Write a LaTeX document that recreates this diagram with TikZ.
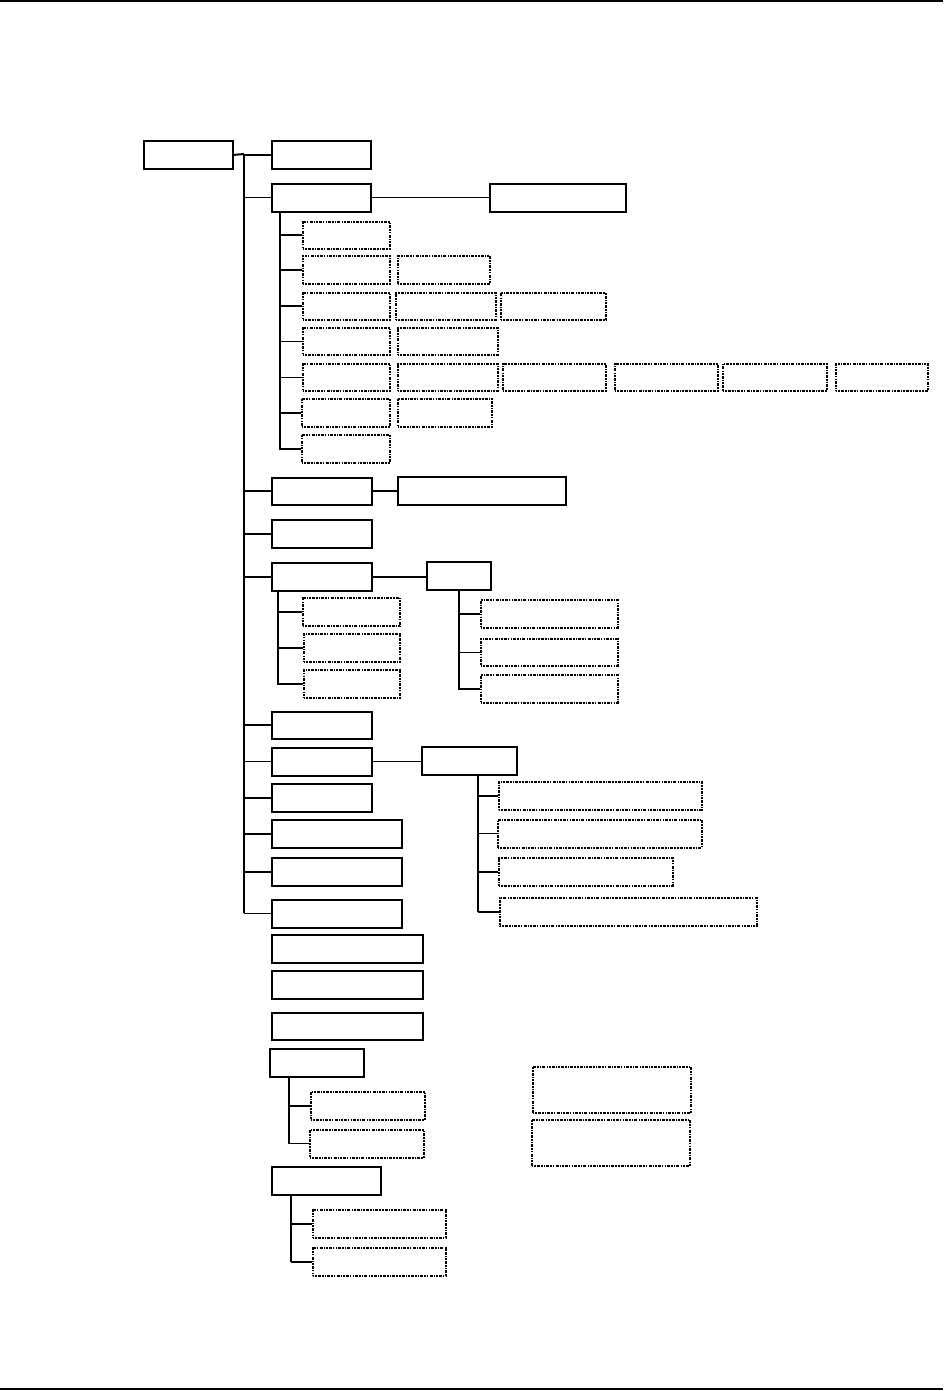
\documentclass[tikz,border=0pt]{standalone}

\tikzset{
  sbox/.style={draw, line width=1.8pt, inner sep=0pt, anchor=north west},
  sboxthin/.style={sbox, line width=1.6pt},
  dbox/.style={draw, line width=1.5pt, inner sep=0pt, anchor=north west,
    dash pattern=on 1.5pt off 1.1pt on 1.5pt off 1.1pt on 3pt off 1.1pt},
  link/.style={line width=2pt},
  thinlink/.style={line width=1.1pt}
}

\begin{document}
\begin{tikzpicture}[x=1pt, y=-1pt]
  \useasboundingbox (0,0) rectangle (943,1391);

  % the page rules
  \draw[line width=2.5pt] (0,1) -- (943,1);
  \draw[line width=2.5pt] (0,1389) -- (943,1389);

  % the root and the main branches
  \node[sbox, minimum width=89pt, minimum height=28pt] (root) at (143,140) {};
  \node[sboxthin, minimum width=99pt, minimum height=28pt] (b1) at (271,140) {};
  \node[sbox, minimum width=99pt, minimum height=28pt] (b2) at (271,183) {};
  \node[sbox, minimum width=136pt, minimum height=28pt] (b2r) at (489,183) {};
  \node[sboxthin, minimum width=100pt, minimum height=27pt] (b3) at (271,477) {};
  \node[sbox, minimum width=168pt, minimum height=28pt] (b3r) at (397,476) {};
  \node[sbox, minimum width=100pt, minimum height=28pt] (b4) at (271,519) {};
  \node[sbox, minimum width=100pt, minimum height=28pt] (b5) at (271,562) {};
  \node[sbox, minimum width=64pt, minimum height=28pt] (b5r) at (426,561) {};
  \node[sbox, minimum width=100pt, minimum height=27pt] (b6) at (271,711) {};
  \node[sboxthin, minimum width=100pt, minimum height=28pt] (b7) at (271,747) {};
  \node[sbox, minimum width=95pt, minimum height=28pt] (b7r) at (421,746) {};
  \node[sbox, minimum width=100pt, minimum height=28pt] (b8) at (271,783) {};
  \node[sbox, minimum width=130pt, minimum height=28pt] (b9) at (271,819) {};
  \node[sbox, minimum width=130pt, minimum height=28pt] (b10) at (271,857) {};
  \node[sbox, minimum width=130pt, minimum height=28pt] (b11) at (271,899) {};

  % the boxes below the trunk
  \node[sbox, minimum width=151pt, minimum height=28pt] (d1) at (271,934) {};
  \node[sbox, minimum width=151pt, minimum height=28pt] (d2) at (271,970) {};
  \node[sboxthin, minimum width=151pt, minimum height=27pt] (d3) at (271,1012) {};
  \node[sbox, minimum width=94pt, minimum height=28pt] (e) at (269,1048) {};
  \node[sboxthin, minimum width=109pt, minimum height=28pt] (f) at (271,1166) {};

  % the dotted boxes under b2
  \node[dbox, minimum width=87pt, minimum height=27pt] (b2c1) at (302,221) {};
  \node[dbox, minimum width=87pt, minimum height=28pt] (b2c2) at (302,255) {};
  \node[dbox, minimum width=92pt, minimum height=28pt] (b2c2a) at (397,255) {};
  \node[dbox, minimum width=87pt, minimum height=27pt] (b2c3) at (302,292) {};
  \node[dbox, minimum width=100pt, minimum height=27pt] (b2c3a) at (395,292) {};
  \node[dbox, minimum width=105pt, minimum height=27pt] (b2c3b) at (500,292) {};
  \node[dbox, minimum width=87pt, minimum height=27pt] (b2c4) at (302,327) {};
  \node[dbox, minimum width=100pt, minimum height=27pt] (b2c4a) at (397,327) {};
  \node[dbox, minimum width=87pt, minimum height=27pt] (b2c5) at (302,363) {};
  \node[dbox, minimum width=100pt, minimum height=27pt] (b2c5a) at (397,363) {};
  \node[dbox, minimum width=103pt, minimum height=27pt] (b2c5b) at (502,363) {};
  \node[dbox, minimum width=103pt, minimum height=27pt] (b2c5c) at (614,363) {};
  \node[dbox, minimum width=104pt, minimum height=27pt] (b2c5d) at (722,363) {};
  \node[dbox, minimum width=92pt, minimum height=27pt] (b2c5e) at (835,363) {};
  \node[dbox, minimum width=88pt, minimum height=28pt] (b2c6) at (301,398) {};
  \node[dbox, minimum width=94pt, minimum height=28pt] (b2c6a) at (397,398) {};
  \node[dbox, minimum width=88pt, minimum height=28pt] (b2c7) at (301,434) {};

  % the dotted boxes under b5 and b5r
  \node[dbox, minimum width=97pt, minimum height=28pt] (b5c1) at (302,597) {};
  \node[dbox, minimum width=96pt, minimum height=28pt] (b5c2) at (303,633) {};
  \node[dbox, minimum width=96pt, minimum height=28pt] (b5c3) at (303,669) {};
  \node[dbox, minimum width=137pt, minimum height=28pt] (b5rc1) at (480,599) {};
  \node[dbox, minimum width=137pt, minimum height=27pt] (b5rc2) at (480,638) {};
  \node[dbox, minimum width=137pt, minimum height=28pt] (b5rc3) at (480,674) {};

  % the dotted boxes under b7r
  \node[dbox, minimum width=203pt, minimum height=28pt] (b7rc1) at (498,781) {};
  \node[dbox, minimum width=204pt, minimum height=28pt] (b7rc2) at (497,819) {};
  \node[dbox, minimum width=174pt, minimum height=28pt] (b7rc3) at (498,857) {};
  \node[dbox, minimum width=257pt, minimum height=28pt] (b7rc4) at (499,897) {};

  % the dotted boxes under e and f, and the two loose ones
  \node[dbox, minimum width=114pt, minimum height=28pt] (ec1) at (310,1091) {};
  \node[dbox, minimum width=114pt, minimum height=28pt] (ec2) at (309,1129) {};
  \node[dbox, minimum width=133pt, minimum height=28pt] (fc1) at (312,1209) {};
  \node[dbox, minimum width=133pt, minimum height=28pt] (fc2) at (312,1247) {};
  \node[dbox, minimum width=158pt, minimum height=46pt] (g1) at (532,1066) {};
  \node[dbox, minimum width=158pt, minimum height=46pt] (g2) at (531,1119) {};

  % the trunk
  \coordinate (trunktop) at (244,154);
  \coordinate (trunkbot) at (244,913);
  \draw[link] (root.east) -- (trunktop);
  \draw[link] (trunktop) -- (trunkbot);
  \draw[link] (trunktop |- b1.west) -- (b1.west);
  \draw[thinlink] (trunktop |- b2.west) -- (b2.west);
  \draw[link] (trunktop |- b3.west) -- (b3.west);
  \draw[link] (trunktop |- b4.west) -- (b4.west);
  \draw[link] (trunktop |- b5.west) -- (b5.west);
  \draw[link] (trunktop |- b6.west) -- (b6.west);
  \draw[thinlink] (trunktop |- b7.west) -- (b7.west);
  \draw[link] (trunktop |- b8.west) -- (b8.west);
  \draw[link] (trunktop |- b9.west) -- (b9.west);
  \draw[link] (trunktop |- b10.west) -- (b10.west);
  \draw[thinlink] (trunktop |- b11.west) -- (b11.west);

  % side links
  \draw[thinlink] (b2.east) -- (b2.east -| b2r.west);
  \draw[link] (b3.east) -- (b3.east -| b3r.west);
  \draw[link] (b5.east) -- (b5.east -| b5r.west);
  \draw[thinlink] (b7.east) -- (b7.east -| b7r.west);

  % the links under b2
  \coordinate (b2v) at (280,211);
  \draw[link] (b2v) |- (b2c7.west);
  \draw[link] (b2v |- b2c1.west) -- (b2c1.west);
  \draw[link] (b2v |- b2c2.west) -- (b2c2.west);
  \draw[link] (b2v |- b2c3.west) -- (b2c3.west);
  \draw[thinlink] (b2v |- b2c4.west) -- (b2c4.west);
  \draw[thinlink] (b2v |- b2c5.west) -- (b2c5.west);
  \draw[link] (b2v |- b2c6.west) -- (b2c6.west);

  % the links under b5 and b5r
  \coordinate (b5v) at (278,590);
  \draw[link] (b5v) |- (b5c3.west);
  \draw[link] (b5v |- b5c1.west) -- (b5c1.west);
  \draw[link] (b5v |- b5c2.west) -- (b5c2.west);
  \coordinate (b5rv) at (459,589);
  \draw[link] (b5rv) |- (b5rc3.west);
  \draw[link] (b5rv |- b5rc1.west) -- (b5rc1.west);
  \draw[thinlink] (b5rv |- b5rc2.west) -- (b5rc2.west);

  % the links under b7r
  \coordinate (b7rv) at (478,774);
  \draw[thinlink] (b7rv) -- (b7rv |- b7rc4.west);
  \draw[link] (b7rv |- b7rc1.west) -- (b7rc1.west);
  \draw[thinlink] (b7rv |- b7rc2.west) -- (b7rc2.west);
  \draw[link] (b7rv |- b7rc3.west) -- (b7rc3.west);
  \draw[link] (b7rv |- b7rc4.west) -- (b7rc4.west);

  % the links under e and f
  \coordinate (ev) at (289,1076);
  \draw[link] (ev) -- (ev |- ec2.west);
  \draw[link] (ev |- ec1.west) -- (ec1.west);
  \draw[thinlink] (ev |- ec2.west) -- (ec2.west);
  \coordinate (fv) at (291,1194);
  \draw[thinlink] (fv) -- (fv |- fc2.west);
  \draw[link] (fv |- fc1.west) -- (fc1.west);
  \draw[link] (fv |- fc2.west) -- (fc2.west);
\end{tikzpicture}
\end{document}
